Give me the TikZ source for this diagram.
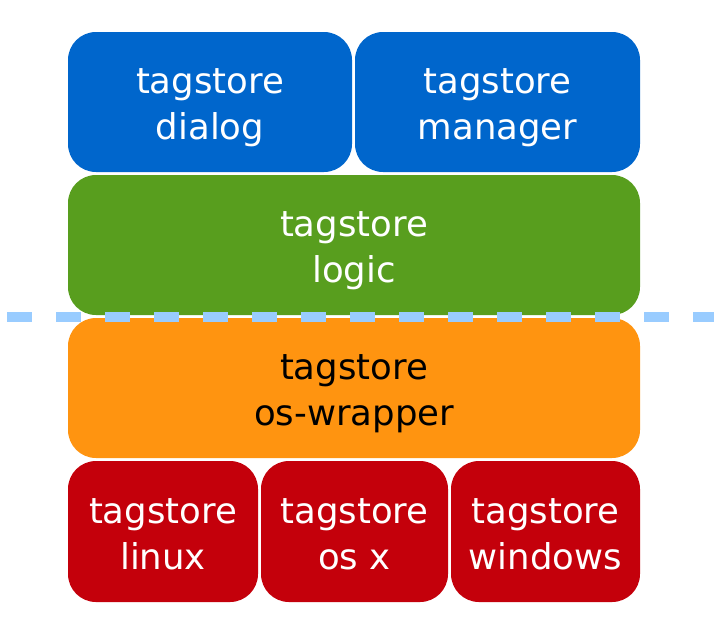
\documentclass[tikz,border=0pt]{standalone}
\usepackage{fontspec}
\setmainfont{DejaVu Sans}
\usetikzlibrary{positioning}
\definecolor{uiblue}{HTML}{0066CC}
\definecolor{logicgreen}{HTML}{589E1E}
\definecolor{wraporange}{HTML}{FF9410}
\definecolor{osred}{HTML}{C4000B}
\definecolor{cutblue}{HTML}{99CCFF}
\newcommand{\twolines}[2]{\begin{tabular}[b]{@{}c@{}}#1\\#2\end{tabular}}
\tikzset{
  layer/.style={
    rectangle, rounded corners=28pt, inner sep=0pt,
    font=\fontsize{35.5}{46}\selectfont,
    text height=85pt, text depth=10pt
  },
  ui/.style={layer, fill=uiblue, text=white,
    minimum width=284pt, minimum height=140pt},
  logic/.style={layer, fill=logicgreen, text=white,
    minimum width=572pt, minimum height=140pt},
  wrapper/.style={layer, fill=wraporange, text=black,
    minimum width=572pt, minimum height=140pt},
  osbox/.style={layer, fill=osred, text=white,
    minimum height=141pt},
  cut/.style={cutblue, line width=10pt, dash pattern=on 25pt off 24pt},
}

\begin{document}
\begin{tikzpicture}[x=1pt, y=-1pt]
\useasboundingbox (0,0) rectangle (714,630);

% --- User interface ---
\node[ui] (dialog) at (210,102) {\twolines{tagstore}{dialog}};
\node[ui, minimum width=285pt] (manager) at (497.5,102) {\twolines{tagstore}{manager}};

% --- Logic and wrapper ---
\node[logic] (logic) at (354,245) {\twolines{tagstore}{logic}};
\node[wrapper] (wrapper) at (354,388) {\twolines{tagstore}{os-wrapper}};

% --- Operating systems ---
\node[osbox, minimum width=190pt] (linux) at (163,531.5) {\twolines{tagstore}{linux}};
\node[osbox, minimum width=187pt] (osx) at (354.5,531.5) {\twolines{tagstore}{os x}};
\node[osbox, minimum width=189pt] (windows) at (545.5,531.5) {\twolines{tagstore}{windows}};

% --- Boundary ---
\coordinate (cutL) at (7,317);
\coordinate (cutR) at (714,317);
\draw[cut] (cutL) -- (cutR);

\end{tikzpicture}
\end{document}
